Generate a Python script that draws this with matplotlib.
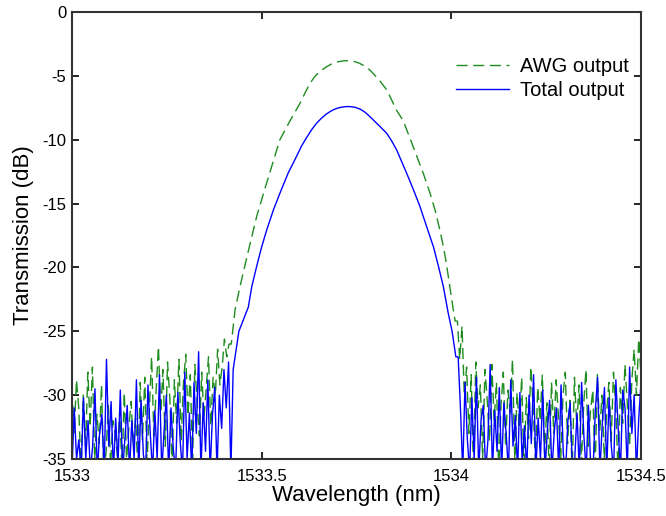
import numpy as np
import matplotlib.pyplot as plt

plt.rcParams['font.family'] = ['Liberation Sans', 'DejaVu Sans']
plt.rcParams['axes.unicode_minus'] = False

# passband shape (wavelength nm, dB)
awg_band_x = [1533.420, 1533.430, 1533.443, 1533.461, 1533.487, 1533.513, 1533.548, 1533.575,
              1533.601, 1533.615, 1533.627, 1533.640, 1533.655, 1533.671, 1533.685, 1533.700,
              1533.715, 1533.728, 1533.742, 1533.756, 1533.770, 1533.782, 1533.794, 1533.812,
              1533.830, 1533.856, 1533.873, 1533.890, 1533.909, 1533.927, 1533.944, 1533.958,
              1533.970, 1533.980, 1533.988, 1534.001, 1534.010]
awg_band_y = [-26.0, -23.3, -21.5, -19.2, -16.0, -13.4, -10.0, -8.5,
              -7.15, -6.3, -5.6, -5.05, -4.6, -4.28, -4.05, -3.9,
              -3.82, -3.8, -3.85, -3.98, -4.2, -4.45, -4.8, -5.4,
              -6.1, -7.7, -8.5, -9.8, -11.3, -12.7, -14.2, -15.6,
              -17.1, -18.5, -19.9, -22.5, -24.2]

total_band_x = [1533.425, 1533.440, 1533.465, 1533.474, 1533.487, 1533.500, 1533.513, 1533.531,
                1533.548, 1533.570, 1533.592, 1533.605, 1533.619, 1533.632, 1533.645, 1533.658,
                1533.670, 1533.680, 1533.689, 1533.700, 1533.710, 1533.722, 1533.733, 1533.746,
                1533.760, 1533.773, 1533.786, 1533.798, 1533.810, 1533.820, 1533.830, 1533.843,
                1533.856, 1533.869, 1533.882, 1533.900, 1533.917, 1533.935, 1533.953, 1533.966,
                1533.979, 1533.992, 1534.002, 1534.012]
total_band_y = [-28.0, -25.0, -23.1, -21.5, -19.9, -18.4, -17.1, -15.5,
                -14.2, -12.6, -11.3, -10.5, -9.8, -9.2, -8.7, -8.3,
                -8.0, -7.8, -7.65, -7.52, -7.45, -7.4, -7.4, -7.45,
                -7.6, -7.85, -8.2, -8.55, -8.9, -9.2, -9.5, -10.1,
                -10.8, -11.7, -12.6, -13.9, -15.2, -16.8, -18.4, -19.9,
                -21.5, -23.6, -25.0, -27.0]

# noise floor outside the passband, read stroke by stroke (dB)
awg_left = [-29.5, -33, -28.8, -31, -36, -30, -34, -28.2, -32.5, -27.8, -35, -31.5, -33.8, -29.2,
            -36, -34.5, -30.8, -35.5, -32, -33, -34.8, -31.2, -36, -29.8, -35, -32.6, -30.5, -34,
            -31.8, -36, -29, -33.5, -28.6, -35.2, -31, -27, -33.2, -29.6, -26.2, -31.4, -28, -34,
            -27.4, -30.2, -35.6, -28.8, -32.2, -27.2, -33.6, -29, -26.8, -31.6, -28.4, -35, -27.6,
            -30.6, -33.2, -28.2, -31.8, -29.4, -27, -32.4, -28.6, -30, -26.4, -29.2, -27.8, -25.6,
            -27, -26]
total_left = [-36, -31, -35, -33.5, -36, -30.2, -35, -32, -36, -34, -29.5, -36, -33, -31.5, -36,
              -27.2, -34, -30.5, -36, -31.8, -35.5, -29.6, -36, -33.4, -30.8, -36, -32, -35, -28.8,
              -36, -30.4, -34.6, -36, -29.2, -33, -36, -31.2, -35, -28.4, -36, -32.8, -30, -36, -31,
              -34.2, -36, -29.8, -33.6, -36, -28.2, -35, -31.4, -36, -29, -33, -26.6, -36, -30.6,
              -34.4, -28.8, -36, -31.6, -29.4, -36, -30, -32.6, -28, -31, -27.4, -36]
awg_right = [-24.2, -27.2, -24.6, -30, -27.8, -33, -28.4, -36, -27.4, -31, -29.2, -35, -28, -30.4,
             -33.6, -27.6, -32, -29, -36, -30.8, -28.2, -34, -29.6, -31.4, -27.2, -35, -29.8, -32.6,
             -28.6, -36, -30.2, -33.4, -27.8, -31, -35.2, -29.4, -32, -28.4, -34.6, -30.6, -36, -29,
             -33, -28.8, -31.6, -35, -30, -28.2, -33.8, -30.4, -36, -28.6, -32.4, -29.2, -35.4,
             -30.8, -28, -34, -31.2, -29.6, -36, -28.4, -32.8, -30, -35, -31.4, -29, -33.6, -28.2,
             -31, -36, -29.4, -32.2, -27.6, -30.6, -34, -28.8, -26.4, -30, -25.6, -28.4]
total_right = [-27, -31, -36, -29, -33.4, -36, -30.2, -35, -28.6, -36, -32, -30.8, -36, -33.6, -27.6,
               -36, -31.2, -34.4, -29.4, -36, -30.6, -33, -36, -28.8, -34, -31.6, -36, -29.8, -35.2,
               -32.4, -36, -30, -33.8, -28.4, -36, -31.8, -35, -29.6, -36, -32.8, -30.4, -36, -33,
               -31, -36, -29.2, -34.6, -36, -32, -30.6, -36, -35, -31.4, -36, -29, -33.2, -36, -30.8,
               -35.6, -36, -31.2, -28.6, -36, -32.4, -29.4, -36, -30.2, -34, -36, -28.8, -32.6, -36,
               -29.6, -31, -36, -27.8, -33, -30, -36, -31.8, -29]

green = '#1f8c1f'
blue = '#0000ff'

def full_trace(band_x, band_y, left, right):
    lx = np.linspace(1533.0, band_x[0], len(left), endpoint=False)
    rx = np.linspace(band_x[-1], 1534.5, len(right) + 1)[1:]
    x = np.concatenate([lx, band_x, rx])
    y = np.concatenate([left, band_y, right])
    return x, y

awg_x, awg_y = full_trace(awg_band_x, awg_band_y, awg_left, awg_right)
tot_x, tot_y = full_trace(total_band_x, total_band_y, total_left, total_right)

fig = plt.figure(figsize=(6.66, 5.16), dpi=100)
ax = fig.add_axes([0.108, 0.1105, 0.8545, 0.866])

ax.plot(awg_x, awg_y, color=green, lw=1.0, dashes=(8, 4), label='AWG output')
ax.plot(tot_x, tot_y, color=blue, lw=1.0, label='Total output')

ax.set_xlim(1533, 1534.5)
ax.set_ylim(-35, 0)
ax.set_xticks([1533, 1533.5, 1534, 1534.5])
ax.set_xticklabels(['1533', '1533.5', '1534', '1534.5'])
ax.set_yticks(np.arange(-35, 1, 5))
ax.tick_params(direction='in', top=True, right=True, labelsize=12, length=5, width=1.2)
ax.tick_params(axis='x', pad=7)
ax.tick_params(axis='y', pad=4)
for s in ax.spines.values():
    s.set_linewidth(1.5)
    s.set_color('#333333')

ax.set_xlabel('Wavelength (nm)', fontsize=16, labelpad=1)
ax.set_ylabel('Transmission (dB)', fontsize=16, labelpad=6)

ax.legend(loc='upper right', bbox_to_anchor=(1.01, 0.94), frameon=False, fontsize=14.5,
          handlelength=2.6, handletextpad=0.55, labelspacing=0.25)

fig.savefig('out.png', dpi=100)
